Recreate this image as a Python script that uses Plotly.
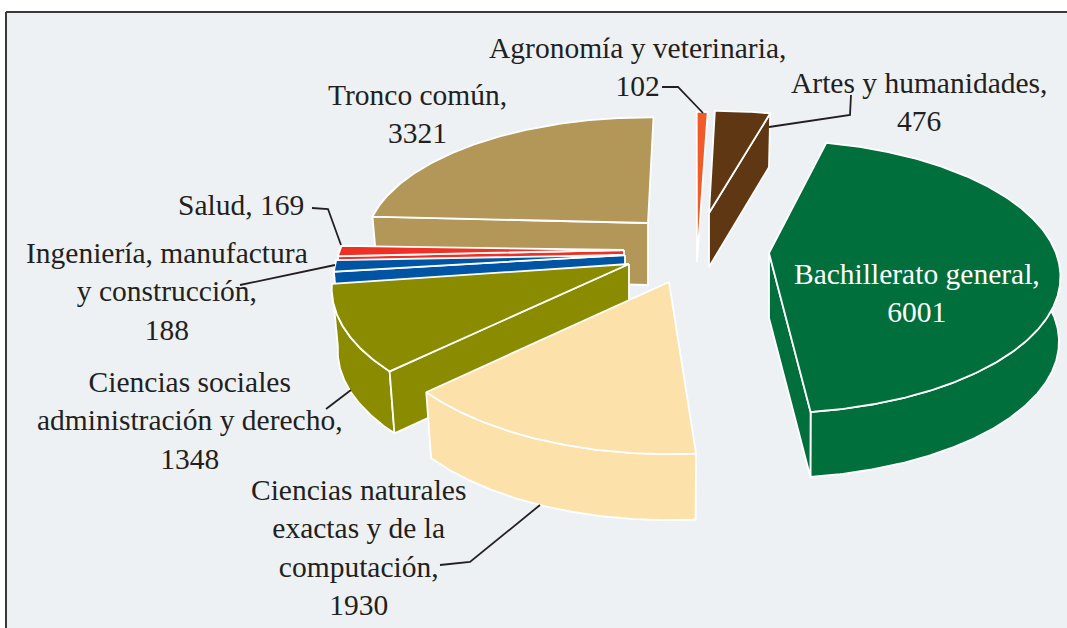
import numpy as np
import plotly.graph_objects as go

# ---- data
categories = ["Bachillerato general", "Ciencias naturales exactas y de la computación",
              "Ciencias sociales administración y derecho", "Ingeniería, manufactura y construcción",
              "Salud", "Tronco común", "Agronomía y veterinaria", "Artes y humanidades"]
values = [6001, 1930, 1348, 188, 169, 3321, 102, 476]

# ---- styling of each slice
top_colors = ["#006f3c", "#fde1ab", "#8b8b00", "#0054a4", "#ee3124", "#b29759", "#f15a29", "#5f3813"]
apex_x = [769, 669, 629, 625, 624, 648, 697, 709]
apex_y = [253, 282, 264, 255, 250, 223, 262, 213]
scale_x = [1.0, 1.02, 1.02, 1.0, 0.99, 0.97, 0.95, 1.03]
scale_y = [1.015, 1.09, 1.04, 1.0, 1.0, 0.95, 1.35, 0.92]
nudge_deg = [-0.5, 2, 1, 2, 1.5, 2.7, 1.3, 0]
depth = [65, 66, 62, 62, 62, 62, 0, 54]
shrink = [0.995, 0.98, 0.98, 0.98, 0.98, 0.98, 0.98, 0.98]
cut_face = ["end", None, "start", "start", "start", "start", None, "end"]
draw_order = [5, 4, 3, 2, 1, 6, 7, 0]
start_angle = 14.0

# perspective of the pie disk
K, A, B = 0.174, 130.5, 287.0

ink = "#231f20"
labels = [
    ("Agronomía y veterinaria,<br>102", 637, 67, ink),
    ("Artes y humanidades,<br>476", 919, 102, ink),
    ("Tronco común,<br>3321", 417, 114, ink),
    ("Salud, 169", 241, 205, ink),
    ("Ingeniería, manufactura<br>y construcción,<br>188", 167, 291, ink),
    ("Ciencias sociales<br>administración y derecho,<br>1348", 190, 420, ink),
    ("Ciencias naturales<br>exactas y de la<br>computación,<br>1930", 358, 547, ink),
    ("Bachillerato general,<br>6001", 917, 293, "#ffffff"),
]
leaders = [
    ([662, 678, 703], [87, 87, 113]),
    ([769, 850, 851], [127, 115, 95]),
    ([312, 328, 341], [208, 209, 245]),
    ([240, 335], [285, 265]),
    ([326, 351], [409, 390]),
    ([440, 470, 540], [565, 562, 505]),
]

fractions = np.array(values, dtype=float) / sum(values)
edges = start_angle + 360 * np.concatenate([[0], np.cumsum(fractions)])


def project(theta_deg):
    t = np.radians(theta_deg)
    u, v = np.sin(t), -np.cos(t)
    w = 1 - K * v
    return B * u / w, A * v / w


fig = go.Figure()


def poly(xs, ys, color):
    fig.add_trace(go.Scatter(
        x=list(xs), y=list(ys), mode="lines", fill="toself", fillcolor=color,
        line=dict(color="#ffffff", width=1.8), hoverinfo="skip", showlegend=False))


for i in draw_order:
    a0 = edges[i] + nudge_deg[i]
    a1 = edges[i + 1] + nudge_deg[i]
    th = np.linspace(a0, a1, max(6, int(a1 - a0) * 2))
    dx, dy = project(th)
    dx, dy = dx * scale_x[i], dy * scale_y[i]
    ax, ay, d = apex_x[i], apex_y[i], depth[i]
    rx, ry = ax + dx, ay + dy
    bx, by = ax + dx * shrink[i], ay + dy + d
    col = top_colors[i]
    if d > 0:
        # outer wall: only the part turned towards the viewer
        front = (th % 360 > 80) & (th % 360 < 285)
        if front.sum() > 1:
            fx, fy, gx, gy = rx[front], ry[front], bx[front], by[front]
            poly(list(fx) + list(gx[::-1]) + [fx[0]], list(fy) + list(gy[::-1]) + [fy[0]], col)
        # radial cut wall
        k = {"start": 0, "end": -1}.get(cut_face[i])
        if k is not None:
            poly([ax, rx[k], bx[k], ax, ax], [ay, ry[k], by[k], ay + d, ay], col)
    poly([ax] + list(rx) + [ax], [ay] + list(ry) + [ay], col)

for lx, ly in leaders:
    fig.add_trace(go.Scatter(x=lx, y=ly, mode="lines", line=dict(color=ink, width=1.8),
                             hoverinfo="skip", showlegend=False))

for text, x, y, c in labels:
    fig.add_annotation(x=x, y=y, text=text, showarrow=False, xanchor="center", yanchor="middle",
                       font=dict(family="Liberation Serif", size=29.5, color=c))

fig.add_shape(type="rect", layer="below", x0=6, x1=1067, y0=12, y1=628,
              fillcolor="#edf1f4", line=dict(width=0))
fig.add_shape(type="line", x0=6, x1=6, y0=12, y1=628, line=dict(color="#3a3a3a", width=2))
fig.add_shape(type="line", x0=6, x1=1067, y0=12, y1=12, line=dict(color="#3a3a3a", width=2))

fig.update_layout(
    width=1067, height=628, margin=dict(l=0, r=0, t=0, b=0), autosize=False,
    paper_bgcolor="#ffffff", plot_bgcolor="#ffffff", showlegend=False,
    xaxis=dict(range=[0, 1067], visible=False, fixedrange=True),
    yaxis=dict(range=[628, 0], visible=False, fixedrange=True),
)
fig.write_html("out.html", config={"displayModeBar": False},
               post_script="document.body.style.margin='0';document.body.style.overflow='hidden';")
